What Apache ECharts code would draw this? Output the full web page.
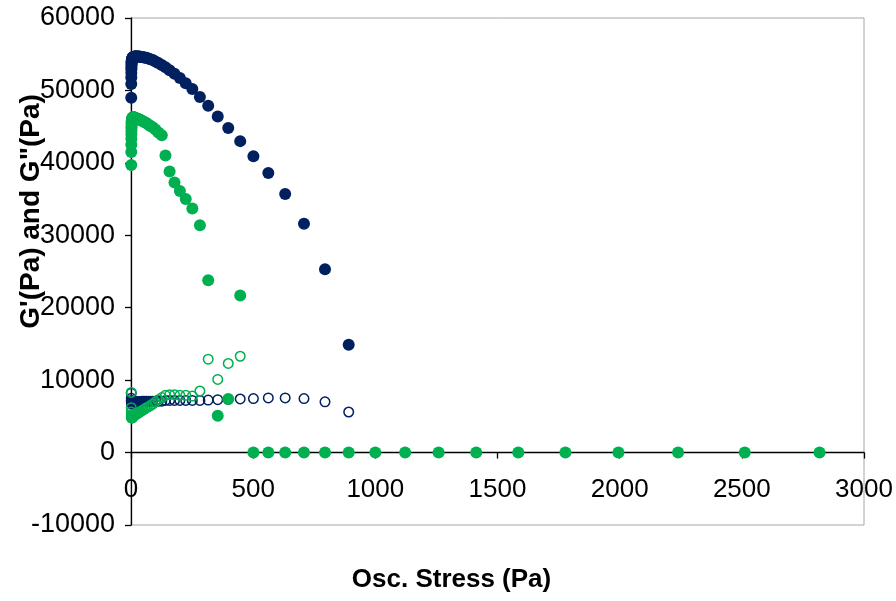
<!DOCTYPE html>
<html><head><meta charset="utf-8">
<script src="https://cdn.jsdelivr.net/npm/echarts@6/dist/echarts.min.js"></script>
<style>html,body{margin:0;padding:0;background:#fff}#c{width:896px;height:601px}</style>
</head><body><div id="c"></div>
<script>
// Oscillation stress values (Pa), log-spaced
const stress = [1, 1.12, 1.26, 1.41, 1.58, 1.78, 2, 2.24, 2.51, 2.82,
  3.16, 3.55, 3.98, 4.47, 5.01, 5.62, 6.31, 7.08, 7.94, 8.91,
  10, 11.2, 12.6, 14.1, 15.8, 17.8, 20, 22.4, 25.1, 28.2,
  31.6, 35.5, 39.8, 44.7, 50.1, 56.2, 63.1, 70.8, 79.4, 89.1,
  100, 112, 126, 141, 158, 178, 200, 224, 251, 282,
  316, 355, 398, 447, 501, 562, 631, 708, 794, 891,
  1000, 1122, 1259, 1413, 1585, 1778, 1995, 2239, 2512, 2818];

// Sample 1 (navy): G' filled, G'' open
const navyGp = [49000, 50900, 51800, 52400, 52900, 53200, 53500, 53700, 53900, 54000,
  54100, 54200, 54300, 54300, 54400, 54400, 54500, 54500, 54500, 54600,
  54600, 54600, 54600, 54700, 54700, 54700, 54700, 54700, 54700, 54700,
  54700, 54700, 54600, 54600, 54600, 54500, 54500, 54400, 54300, 54200,
  54000, 53800, 53500, 53200, 52800, 52300, 51700, 51000, 50200, 49100,
  47900, 46400, 44800, 43000, 40900, 38600, 35700, 31600, 25300, 14900];
const navyGpp = [8200, 7500, 7200, 7000, 6900, 6900, 6800, 6800, 6800, 6800,
  6800, 6800, 6800, 6900, 6900, 6900, 6900, 6900, 6900, 6900,
  6900, 6900, 6900, 7000, 7000, 7000, 7000, 7000, 7000, 7000,
  7000, 7000, 7000, 7100, 7100, 7100, 7100, 7100, 7100, 7100,
  7100, 7100, 7100, 7200, 7200, 7200, 7200, 7200, 7200, 7200,
  7250, 7300, 7350, 7400, 7450, 7550, 7550, 7450, 7000, 5600];

// Sample 2 (green): G' filled, G'' open
const greenGp = [39700, 41500, 42500, 43300, 43900, 44400, 44800, 45100, 45400, 45600,
  45800, 45900, 46000, 46100, 46100, 46200, 46200, 46200, 46300, 46300,
  46300, 46300, 46300, 46200, 46200, 46200, 46200, 46100, 46100, 46100,
  46000, 46000, 45900, 45800, 45700, 45600, 45500, 45300, 45100, 44900,
  44600, 44200, 43800, 41000, 38800, 37300, 36100, 35000, 33700, 31400,
  23800, 5100, 7400, 21700, 0, 0, 0, 0, 0, 0,
  0, 0, 0, 0, 0, 0, 0, 0, 0, 0];
const greenGpp = [8300, 6200, 5600, 5300, 5100, 5000, 4900, 4900, 4800, 4800,
  4800, 4800, 4800, 4800, 4800, 4900, 4900, 4900, 4900, 5000,
  5000, 5100, 5100, 5100, 5200, 5200, 5300, 5300, 5400, 5400,
  5500, 5600, 5700, 5800, 5900, 6000, 6200, 6300, 6500, 6700,
  7000, 7300, 7600, 7900, 8000, 8000, 7900, 7900, 7800, 8500,
  12900, 10100, 12300, 13300];

const xTicks = [0, 500, 1000, 1500, 2000, 2500, 3000];
const yTicks = [-10000, 0, 10000, 20000, 30000, 40000, 50000, 60000];

const NAVY = '#002060', GREEN = '#00B050';
const FONT = '"Liberation Sans", Arial, sans-serif';
function pairs(ys) { return ys.map((y, i) => [stress[i], y]); }
const plain = v => String(v);

const gridTop = 18, gridBottom = 76, H = 601;
const plotH = H - gridTop - gridBottom;
const yMin = yTicks[0], yMax = yTicks[yTicks.length - 1];
// shift the x axis up to the y = 0 line (axis crosses at zero)
const xAxisOffset = -plotH * (0 - yMin) / (yMax - yMin);

const chart = echarts.init(document.getElementById('c'), null, {renderer: 'canvas'});
chart.setOption({
  animation: false,
  backgroundColor: '#fff',
  grid: {left: 131, right: 32, top: gridTop, bottom: gridBottom, containLabel: false, outerBoundsMode: 'none',
         show: true, borderColor: '#a6a6a6', borderWidth: 1},
  xAxis: {
    type: 'value', min: xTicks[0], max: xTicks[xTicks.length - 1], interval: 500,
    position: 'bottom', offset: xAxisOffset,
    name: 'Osc. Stress (Pa)', nameLocation: 'middle', nameGap: 114, nameMoveOverlap: false,
    nameTextStyle: {fontFamily: FONT, fontWeight: 'bold', fontSize: 26, color: '#000', padding: [0, 92, 0, 0]},
    axisLine: {onZero: false, lineStyle: {color: '#000', width: 1.3}},
    axisTick: {inside: false, length: 6, lineStyle: {color: '#000', width: 1.3}},
    axisLabel: {margin: 24, fontFamily: FONT, fontSize: 26, color: '#000', formatter: plain},
    splitLine: {show: false}
  },
  yAxis: {
    type: 'value', min: yMin, max: yMax, interval: 10000,
    name: 'G\'(Pa) and G"(Pa)', nameLocation: 'middle', nameGap: 86, nameMoveOverlap: false,
    nameTextStyle: {fontFamily: FONT, fontWeight: 'bold', fontSize: 28, color: '#000', padding: [0, 0, 0, 120]},
    axisLine: {show: true, onZero: false, lineStyle: {color: '#000', width: 1.3}},
    axisTick: {show: true, inside: false, length: 6, lineStyle: {color: '#000', width: 1.3}},
    axisLabel: {margin: 16, fontFamily: FONT, fontSize: 27, color: '#000', formatter: plain},
    splitLine: {show: false}
  },
  series: [
    {name: "G' sample 1", type: 'scatter', data: pairs(navyGp), symbol: 'circle', symbolSize: 12,
     itemStyle: {color: NAVY, opacity: 1}},
    {name: 'G" sample 1', type: 'scatter', data: pairs(navyGpp), symbol: 'circle', symbolSize: 9.5,
     itemStyle: {color: 'rgba(0,0,0,0)', borderColor: NAVY, borderWidth: 1.5, opacity: 1}},
    {name: "G' sample 2", type: 'scatter', data: pairs(greenGp), symbol: 'circle', symbolSize: 12,
     itemStyle: {color: GREEN, opacity: 1}},
    {name: 'G" sample 2', type: 'scatter', data: pairs(greenGpp), symbol: 'circle', symbolSize: 9.5,
     itemStyle: {color: 'rgba(0,0,0,0)', borderColor: GREEN, borderWidth: 1.5, opacity: 1}}
  ]
});
</script></body></html>
